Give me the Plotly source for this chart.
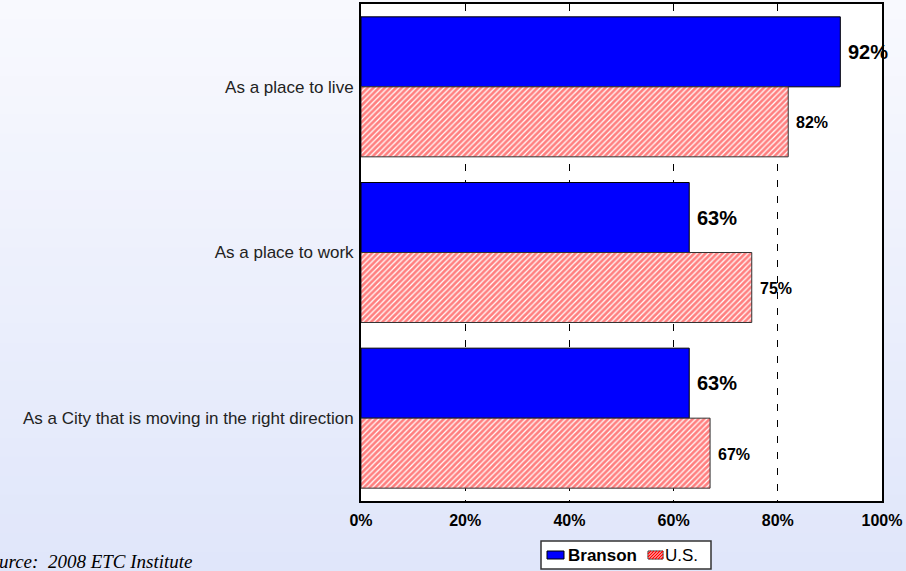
import plotly.graph_objects as go

categories = ["As a place to live", "As a place to work", "As a City that is moving in the right direction"]
branson = [92, 63, 63]
us = [82, 75, 67]
x_ticks = [0, 20, 40, 60, 80, 100]
x_tick_labels = ["0%", "20%", "40%", "60%", "80%", "100%"]
series_names = ["Branson", "U.S."]

W, H = 906, 571
L, R, T, B = 361, 24, 4, 70
pw = W - L - R
ph = H - T - B


def px_x(x):
    return (x - L) / pw


def px_y(y):
    return (H - B - y) / ph


HATCH = dict(shape="/", fgcolor="#ff0000", bgcolor="#ffffff", size=4, solidity=0.7)

fig = go.Figure()
fig.add_trace(go.Bar(
    y=categories, x=branson, orientation="h", name=series_names[0],
    marker=dict(color="#0000ff", line=dict(color="#000000", width=1)),
))
fig.add_trace(go.Bar(
    y=categories, x=us, orientation="h", name=series_names[1],
    marker=dict(color="#ffffff", line=dict(color="#333333", width=1), pattern=HATCH),
))

# background gradient bands
shapes = []
n = 30
top_c = (248, 249, 254)
bot_c = (224, 230, 250)
for i in range(n):
    f = i / (n - 1)
    c = tuple(round(top_c[k] + (bot_c[k] - top_c[k]) * f) for k in range(3))
    shapes.append(dict(type="rect", xref="paper", yref="paper", layer="below",
                       x0=px_x(0), x1=px_x(W),
                       y0=px_y(H * (i + 1) / n + 1), y1=px_y(H * i / n),
                       fillcolor="rgb(%d,%d,%d)" % c, line=dict(width=0)))
shapes.append(dict(type="rect", xref="paper", yref="paper", layer="below",
                   x0=0, x1=1, y0=0, y1=1, fillcolor="#ffffff", line=dict(width=0)))

# custom legend box
shapes.append(dict(type="rect", xref="paper", yref="paper", layer="above",
                   x0=px_x(541), x1=px_x(711), y0=px_y(569), y1=px_y(541),
                   fillcolor="#ffffff", line=dict(color="#333333", width=1.5)))
shapes.append(dict(type="rect", xref="paper", yref="paper", layer="above",
                   x0=px_x(547), x1=px_x(564), y0=px_y(559), y1=px_y(551),
                   fillcolor="#0000ff", line=dict(color="#000000", width=1)))
# hatched symbol
hx0, hx1, hy0, hy1 = 648, 663, 551, 559
shapes.append(dict(type="rect", xref="paper", yref="paper", layer="above",
                   x0=px_x(hx0), x1=px_x(hx1), y0=px_y(hy1), y1=px_y(hy0),
                   fillcolor="#ffffff", line=dict(color="#333333", width=1)))
hgt = hy1 - hy0
s = hx0 - hgt
while s < hx1:
    xa, ya = s, hy1
    xb, yb = s + hgt, hy0
    if xa < hx0:
        ya = hy1 - (hx0 - xa)
        xa = hx0
    if xb > hx1:
        yb = hy0 + (xb - hx1)
        xb = hx1
    if xb > xa:
        shapes.append(dict(type="line", xref="paper", yref="paper", layer="above",
                           x0=px_x(xa), x1=px_x(xb), y0=px_y(ya), y1=px_y(yb),
                           line=dict(color="#ff0000", width=1.4)))
    s += 3

annotations = []
for c, v in zip(categories, branson):
    annotations.append(dict(x=v, y=c, xref="x", yref="y", text="<b>%d%%</b>" % v,
                            showarrow=False, xanchor="left", xshift=6, yshift=35,
                            font=dict(size=20, color="#000000", family="Liberation Sans, Arial")))
for c, v in zip(categories, us):
    annotations.append(dict(x=v, y=c, xref="x", yref="y", text="<b>%d%%</b>" % v,
                            showarrow=False, xanchor="left", xshift=6, yshift=-36,
                            font=dict(size=16, color="#000000", family="Liberation Sans, Arial")))
annotations.append(dict(x=px_x(195), y=px_y(561), xref="paper", yref="paper",
                        text="<i>Source:  2008 ETC Institute</i>", showarrow=False,
                        xanchor="right", yanchor="middle",
                        font=dict(size=19, color="#000000", family="Liberation Serif, Times New Roman")))
# legend texts
annotations.append(dict(x=px_x(566), y=px_y(555), xref="paper", yref="paper",
                        text="<b>%s</b>" % series_names[0], showarrow=False,
                        xanchor="left", yanchor="middle",
                        font=dict(size=17, color="#000000", family="Liberation Sans, Arial")))
annotations.append(dict(x=px_x(663), y=px_y(555), xref="paper", yref="paper",
                        text=series_names[1], showarrow=False,
                        xanchor="left", yanchor="middle",
                        font=dict(size=17, color="#000000", family="Liberation Sans, Arial")))

fig.update_layout(
    width=W, height=H,
    margin=dict(l=L, r=R, t=T, b=B, pad=0, autoexpand=False),
    paper_bgcolor="#eef1fc", plot_bgcolor="rgba(0,0,0,0)",
    barmode="group", bargap=0.155, bargroupgap=0,
    font=dict(family="Liberation Sans, Arial", color="#000000"),
    shapes=shapes, annotations=annotations,
    showlegend=False,
    xaxis=dict(range=[0, 100], tickvals=x_ticks, ticktext=["<b>%s</b>" % t for t in x_tick_labels],
               tickfont=dict(size=16, color="#000000"),
               showgrid=True, gridcolor="#000000", gridwidth=1, griddash="7px,9px",
               zeroline=False, showline=True, linecolor="#000000", linewidth=2, mirror=True,
               ticks="", fixedrange=True, ticklabelstandoff=4),
    yaxis=dict(autorange="reversed", showgrid=False, tickfont=dict(size=17, color="#222222"),
               showline=True, linecolor="#000000", linewidth=2, mirror=True, ticks="",
               ticklabelstandoff=2),
)

fig.write_html("out.html", config={"displayModeBar": False},
               post_script="document.body.style.margin='0px';document.body.style.overflow='hidden';")
